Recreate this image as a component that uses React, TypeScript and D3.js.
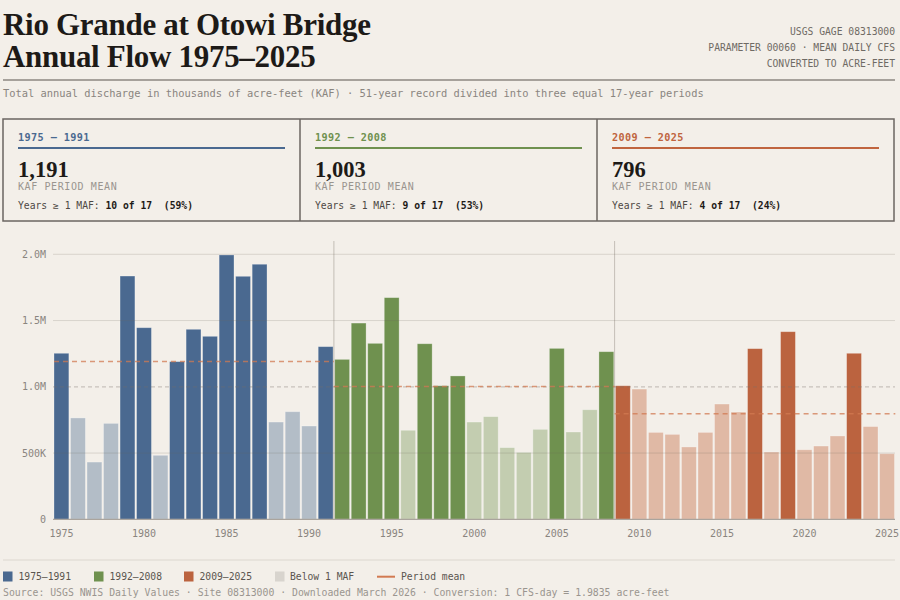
import React from "react";
import * as d3 from "d3";

// Annual discharge, thousands of acre-feet, one value per water year
const flowsP1 = [1253, 765, 432, 724, 1836, 1446, 483, 1190, 1434, 1381, 1995, 1834, 1925, 734, 812, 704, 1303];
const flowsP2 = [1207, 1481, 1328, 1673, 672, 1325, 1008, 1082, 734, 775, 541, 505, 679, 1290, 659, 827, 1265];
const flowsP3 = [1008, 983, 656, 641, 546, 656, 870, 810, 1288, 508, 1416, 525, 553, 629, 1253, 700, 495];

const periodStarts = [1975, 1992, 2009];
const periodEnds = [1991, 2008, 2025];
const periodLabels = ["1975 \u2013 1991", "1992 \u2013 2008", "2009 \u2013 2025"];
const legendLabels = ["1975\u20131991", "1992\u20132008", "2009\u20132025"];
const periodFlows = [flowsP1, flowsP2, flowsP3];

const yTicks = [0, 500, 1000, 1500, 2000];
const yTickLabels = ["0", "500K", "1.0M", "1.5M", "2.0M"];
const xTickYears = [1975, 1980, 1985, 1990, 1995, 2000, 2005, 2010, 2015, 2020, 2025];

const headerLines = ["USGS GAGE 08313000", "PARAMETER 00060 \u00b7 MEAN DAILY CFS", "CONVERTED TO ACRE-FEET"];

// Styling
const BG = "#f3efe9";
const DARK = ["#4a6990", "#6f914f", "#bb633f"];
const LIGHT = ["#b3bdc7", "#c3cdb0", "#e0b9a5"];
const LABEL_COL = ["#4a6990", "#6f914f", "#c0653f"];
const MEAN_COL = "#d27a52";
const MONO = "'DejaVu Sans Mono', 'Liberation Mono', monospace";
const SERIF = "'Liberation Serif', 'DejaVu Serif', serif";
const INK = "#1d1a17";
const GREY = "#8a857f";

const THRESHOLD = 1000;

type Row = { year: number; value: number; period: number };

const rows: Row[] = periodFlows.flatMap((vals, p) =>
  vals.map((v, i) => ({ year: periodStarts[p] + i, value: v, period: p }))
);

export default function App() {
  const W = 900;
  const H = 600;
  const plotLeft = 54;
  const plotRight = 894.5;
  const plotTop = 241;
  const plotBottom = 519.3;

  const x = d3
    .scaleBand<number>()
    .domain(rows.map((r) => r.year))
    .range([plotLeft, plotRight])
    .paddingInner(0.1)
    .paddingOuter(0);
  const y = d3.scaleLinear().domain([0, 2000]).range([plotBottom, 254.3]);

  const gap = (x.step() - x.bandwidth()) / 2;
  const fmt = d3.format(",");

  const stats = periodFlows.map((vals) => {
    const mean = d3.mean(vals) as number;
    const above = vals.filter((v) => v >= THRESHOLD).length;
    return { mean, above, n: vals.length, pct: Math.round((above / vals.length) * 100) };
  });

  const cardLeft = 3;
  const cardRight = 894;
  const cardW = (cardRight - cardLeft) / 3;

  return (
    <svg
      width={W}
      height={H}
      style={{ position: "absolute", left: 0, top: 0, background: BG }}
    >
      <rect x={0} y={0} width={W} height={H} fill={BG} />

      {/* Title block */}
      <text x={3} y={35} fontFamily={SERIF} fontWeight={700} fontSize={31} fill={INK} letterSpacing={-0.3}>
        Rio Grande at Otowi Bridge
      </text>
      <text x={3} y={67} fontFamily={SERIF} fontWeight={700} fontSize={31} fill={INK} letterSpacing={-0.3}>
        Annual Flow 1975–2025
      </text>
      {headerLines.map((t, i) => (
        <text key={t} x={895} y={35 + i * 16} textAnchor="end" fontFamily={MONO} fontSize={9.7} fill="#6f6a64">
          {t}
        </text>
      ))}
      <line x1={3} x2={895} y1={80} y2={80} stroke="#8c8781" strokeWidth={1.5} />
      <text x={3} y={97} fontFamily={MONO} fontSize={10.4} fill={GREY}>
        Total annual discharge in thousands of acre-feet (KAF) · 51-year record divided into three equal 17-year periods
      </text>

      {/* Period summary cards */}
      <rect x={cardLeft} y={119} width={cardRight - cardLeft} height={102} fill="none" stroke="#6b6661" strokeWidth={1.5} />
      {[1, 2].map((i) => (
        <line key={i} x1={cardLeft + cardW * i} x2={cardLeft + cardW * i} y1={119} y2={221} stroke="#6b6661" strokeWidth={1.5} />
      ))}
      {stats.map((s, i) => {
        const cx = cardLeft + cardW * i + 15;
        return (
          <g key={i}>
            <text x={cx} y={141} fontFamily={MONO} fontWeight={700} fontSize={10.2} letterSpacing={0.4} fill={LABEL_COL[i]}>
              {periodLabels[i]}
            </text>
            <line x1={cx} x2={cx + cardW - 30} y1={148} y2={148} stroke={LABEL_COL[i]} strokeWidth={2} />
            <text x={cx} y={177} fontFamily={SERIF} fontWeight={700} fontSize={22.5} fill={INK}>
              {fmt(Math.round(s.mean))}
            </text>
            <text x={cx} y={190} fontFamily={MONO} fontSize={10} letterSpacing={0.6} fill="#9a958f">
              KAF PERIOD MEAN
            </text>
            <text x={cx} y={209} fontFamily={MONO} fontSize={9.7} fill="#4d4843" style={{ whiteSpace: "pre" }}>
              {"Years \u2265 1 MAF: "}
              <tspan fontWeight={700} fill={INK}>{`${s.above} of ${s.n}  (${s.pct}%)`}</tspan>
            </text>
          </g>
        );
      })}

      {/* Bars */}
      {rows.map((r) => (
        <rect
          key={r.year}
          x={x(r.year)}
          y={y(r.value)}
          width={x.bandwidth()}
          height={y(0) - y(r.value)}
          fill={r.value >= THRESHOLD ? DARK[r.period] : LIGHT[r.period]}
          stroke="rgba(255,255,255,0.35)"
          strokeWidth={0.8}
        />
      ))}

      {/* Gridlines */}
      {yTicks.filter((t) => t !== 0 && t !== THRESHOLD).map((t) => (
        <line key={t} x1={53} x2={895} y1={y(t)} y2={y(t)} stroke="rgba(110,100,90,0.2)" strokeWidth={1} />
      ))}
      <line x1={53} x2={895} y1={y(THRESHOLD)} y2={y(THRESHOLD)} stroke="rgba(120,112,104,0.35)" strokeWidth={1.2} strokeDasharray="4,3" />

      {/* Period dividers */}
      {periodStarts.slice(1).map((yr) => {
        const xx = (x(yr) as number) - gap;
        return <line key={yr} x1={xx} x2={xx} y1={plotTop} y2={plotBottom} stroke="rgba(110,100,90,0.35)" strokeWidth={1} />;
      })}

      {/* Period means */}
      {stats.map((s, i) => {
        const x1 = (x(periodStarts[i]) as number) - (i === 0 ? 0 : gap);
        const x2 = (x(periodEnds[i]) as number) + x.bandwidth() + gap;
        return (
          <line key={i} x1={x1} x2={x2} y1={y(s.mean)} y2={y(s.mean)} stroke={MEAN_COL} strokeOpacity={0.75} strokeWidth={1.5} strokeDasharray="5,4" />
        );
      })}

      {/* Axes */}
      <line x1={53} x2={895} y1={plotBottom} y2={plotBottom} stroke="#aaa49d" strokeWidth={1.2} />
      {yTicks.map((t, i) => (
        <text key={t} x={46} y={y(t)} dy="0.35em" textAnchor="end" fontFamily={MONO} fontSize={10} fill={GREY}>
          {yTickLabels[i]}
        </text>
      ))}
      {xTickYears.map((yr) => (
        <text key={yr} x={(x(yr) as number) + x.bandwidth() / 2} y={537} textAnchor="middle" fontFamily={MONO} fontSize={10} fill={GREY}>
          {yr}
        </text>
      ))}

      {/* Legend */}
      <line x1={3} x2={895} y1={560} y2={560} stroke="#dcd7cf" strokeWidth={1} />
      {legendLabels.map((t, i) => {
        const lx = [3, 94, 184][i];
        return (
          <g key={t}>
            <rect x={lx} y={571.5} width={9.5} height={10} fill={DARK[i]} />
            <text x={lx + 15.5} y={580} fontFamily={MONO} fontSize={9.7} fill="#5a554f">{t}</text>
          </g>
        );
      })}
      <rect x={275} y={571.5} width={9.5} height={10} fill="#d8d4ce" />
      <text x={290} y={580} fontFamily={MONO} fontSize={9.7} fill="#5a554f">Below 1 MAF</text>
      <line x1={377} x2={395} y1={576.7} y2={576.7} stroke={MEAN_COL} strokeWidth={2} />
      <text x={401} y={580} fontFamily={MONO} fontSize={9.7} fill="#5a554f">Period mean</text>

      <text x={3} y={596} fontFamily={MONO} fontSize={9.8} fill="#9a958f">
        Source: USGS NWIS Daily Values · Site 08313000 · Downloaded March 2026 · Conversion: 1 CFS-day = 1.9835 acre-feet
      </text>
    </svg>
  );
}
